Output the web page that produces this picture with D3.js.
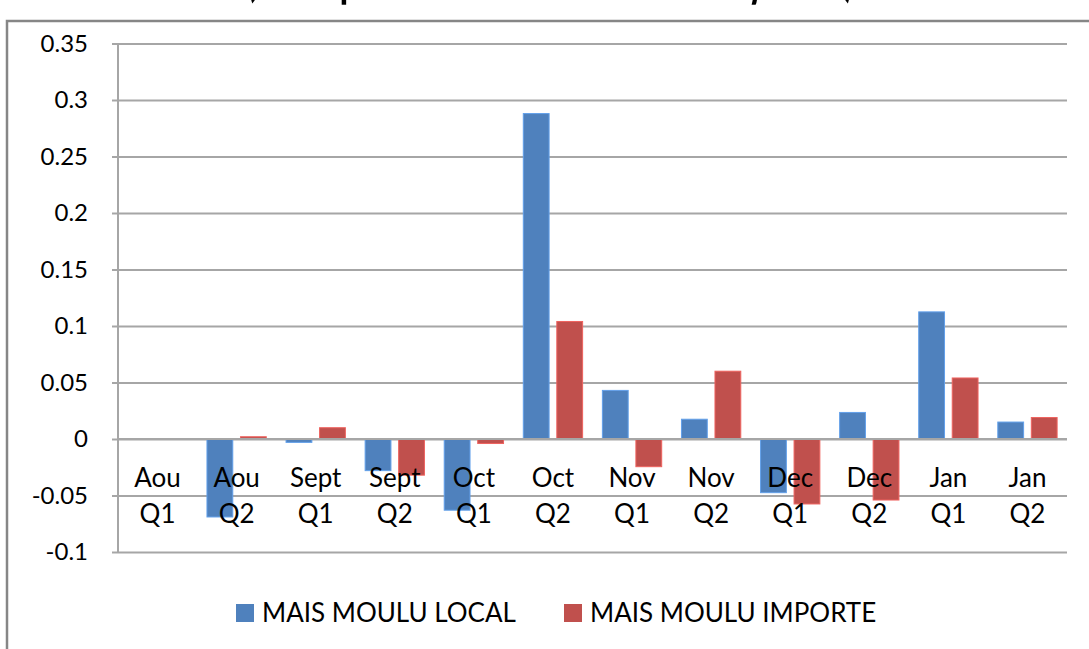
<!DOCTYPE html>
<html lang="fr">
<head>
<meta charset="UTF-8">
<title>Mais moulu</title>
<script src="https://d3js.org/d3.v7.min.js"></script>
<style>
body { margin: 0; background: #fff; }
text { font-family: Lato, "Open Sans", sans-serif; fill: #000; }
</style>
</head>
<body>
<div id="chart"></div>
<script>
const categories = ["Aou Q1", "Aou Q2", "Sept Q1", "Sept Q2", "Oct Q1", "Oct Q2",
                    "Nov Q1", "Nov Q2", "Dec Q1", "Dec Q2", "Jan Q1", "Jan Q2"];
const seriesNames = ["MAIS MOULU LOCAL", "MAIS MOULU IMPORTE"];
const local   = [0, -0.069, -0.003, -0.028, -0.063, 0.288, 0.043, 0.0175, -0.0475, 0.0235, 0.1125, 0.015];
const importe = [0, 0.002, 0.010, -0.032, -0.004, 0.104, -0.0245, 0.060, -0.0575, -0.054, 0.054, 0.019];
const yTicks  = [-0.1, -0.05, 0, 0.05, 0.1, 0.15, 0.2, 0.25, 0.3, 0.35];
const titleText = "(Taux prix: variation relative moyenne)";

const width = 1089, height = 649;
const colors = ["#4f81bd", "#c0504d"];

const svg = d3.select("#chart").append("svg")
    .attr("width", width)
    .attr("height", height);

// title, cut off by the top of the picture: only the descenders show
svg.append("text")
    .attr("transform", "translate(550,-8) scale(1,2)")
    .attr("text-anchor", "middle")
    .style("font-size", "36px")
    .style("font-weight", "bold")
    .text(titleText);

// chart frame
svg.append("rect")
    .attr("x", 7).attr("y", 21)
    .attr("width", 1100).attr("height", 660)
    .attr("fill", "#fff")
    .attr("stroke", "#868686")
    .attr("stroke-width", 2.5);

const x = d3.scaleBand()
    .domain(categories)
    .range([118, 1067])
    .paddingInner(0.25)
    .paddingOuter(0.125);

const x1 = d3.scaleBand()
    .domain(seriesNames)
    .range([0, x.bandwidth()])
    .paddingInner(0.23);

const y = d3.scaleLinear()
    .domain([-0.1, 0.35])
    .range([552, 43.5]);

// gridlines
svg.append("g")
    .attr("transform", "translate(118,0)")
    .call(d3.axisLeft(y).tickValues(yTicks).tickSize(-949).tickFormat(""))
    .call(g => g.select(".domain").remove())
    .call(g => g.selectAll("line").attr("stroke", "#a6a6a6").attr("stroke-width", 2));

// y axis
svg.append("g")
    .attr("transform", "translate(118,0)")
    .call(d3.axisLeft(y).tickValues(yTicks).tickSize(6).tickPadding(24)
        .tickFormat(d => String(+d.toFixed(2))))
    .call(g => g.select(".domain").attr("stroke", "#a6a6a6").attr("stroke-width", 2)
        .attr("d", `M0,${y(-0.1)}V${y(0.35)}`))
    .call(g => g.selectAll("line").attr("stroke", "#a6a6a6").attr("stroke-width", 2))
    .call(g => g.selectAll("text").style("font-size", "24px").attr("fill", "#000")
        .style("font-family", "Lato, sans-serif"));

// bars
const rows = categories.map((c, i) => ({ cat: c, values: [local[i], importe[i]] }));

svg.append("g").selectAll("g")
    .data(rows)
    .join("g")
    .attr("transform", d => `translate(${x(d.cat)},0)`)
    .selectAll("rect")
    .data(d => d.values.map((v, k) => ({ name: seriesNames[k], v, k })))
    .join("rect")
    .attr("x", d => x1(d.name))
    .attr("width", x1.bandwidth())
    .attr("y", d => y(Math.max(0, d.v)))
    .attr("height", d => Math.abs(y(d.v) - y(0)))
    .attr("fill", d => colors[d.k])
    .attr("stroke", d => d3.color(colors[d.k]).brighter(0.6))
    .attr("stroke-width", 1);

// category axis (zero line) and two-line labels
svg.append("line")
    .attr("x1", 118).attr("x2", 1067)
    .attr("y1", y(0)).attr("y2", y(0))
    .attr("stroke", "#a6a6a6").attr("stroke-width", 2);

const labels = svg.append("g").selectAll("text")
    .data(categories)
    .join("text")
    .attr("x", d => x(d) + x.bandwidth() / 2)
    .attr("text-anchor", "middle")
    .style("font-size", "26px");
labels.append("tspan").attr("x", d => x(d) + x.bandwidth() / 2).attr("y", 487)
    .text(d => d.split(" ")[0]);
labels.append("tspan").attr("x", d => x(d) + x.bandwidth() / 2).attr("y", 523)
    .text(d => d.split(" ")[1]);

// legend
const legendX = [236, 564];
const legend = svg.append("g").selectAll("g")
    .data(seriesNames)
    .join("g")
    .attr("transform", (d, i) => `translate(${legendX[i]},604)`);
legend.append("rect")
    .attr("width", 18).attr("height", 18)
    .attr("fill", (d, i) => colors[i]);
legend.append("text")
    .attr("x", 26).attr("y", 18)
    .style("font-size", "26px")
    .text(d => d);
</script>
</body>
</html>
